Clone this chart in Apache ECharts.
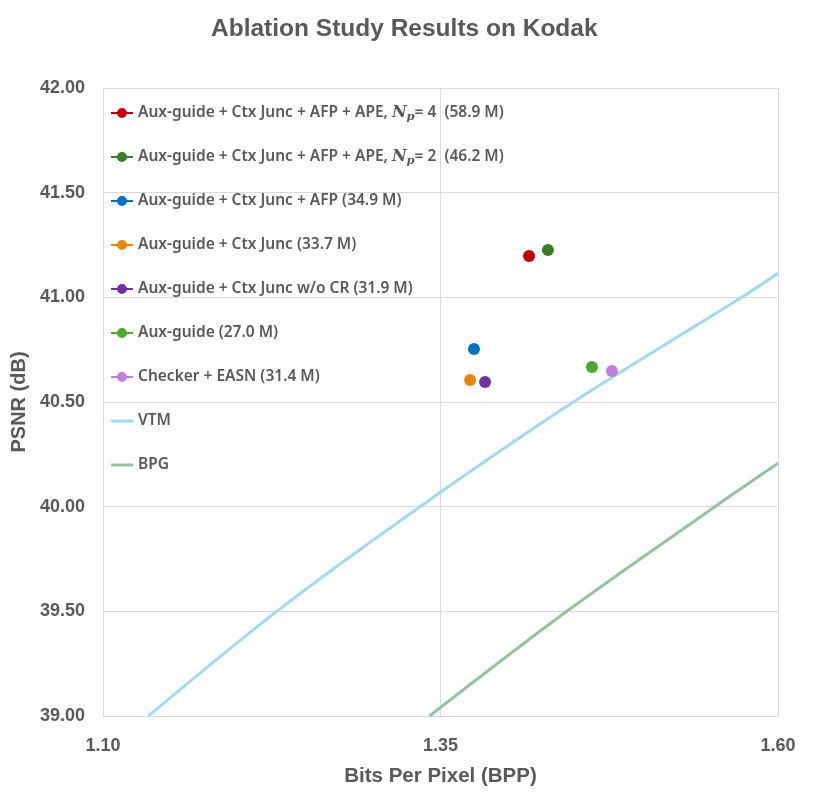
<!DOCTYPE html>
<html>
<head>
<meta charset="utf-8">
<script src="https://cdn.jsdelivr.net/npm/echarts@6/dist/echarts.min.js"></script>
<style>html,body{margin:0;padding:0;background:#fff;}#c{width:822px;height:792px;}</style>
</head>
<body>
<div id="c"></div>
<script>
const pointNames = [
  'Aux-guide + Ctx Junc + AFP + APE, Np= 4  (58.9 M)',
  'Aux-guide + Ctx Junc + AFP + APE, Np= 2  (46.2 M)',
  'Aux-guide + Ctx Junc + AFP (34.9 M)',
  'Aux-guide + Ctx Junc (33.7 M)',
  'Aux-guide + Ctx Junc w/o CR (31.9 M)',
  'Aux-guide (27.0 M)',
  'Checker + EASN (31.4 M)'
];
const pointColors = ['#c00000', '#3a7d22', '#0070c0', '#e8870e', '#7030a0', '#4ea72e', '#c07ee0'];
const pointBpp = [1.4156, 1.4296, 1.3748, 1.3719, 1.3830, 1.4622, 1.4770];
const pointPsnr = [41.197, 41.226, 40.753, 40.605, 40.595, 40.667, 40.648];

const vtmBpp = [1.1336, 1.2287, 1.3348, 1.4484, 1.5731, 1.6000];
const vtmPsnr = [39.00, 39.50, 40.00, 40.50, 41.00, 41.115];
const bpgBpp = [1.3419, 1.4435, 1.5533, 1.6000];
const bpgPsnr = [39.00, 39.50, 40.00, 40.207];

const xTicks = [1.10, 1.35, 1.60];
const yTicks = [39.0, 39.5, 40.0, 40.5, 41.0, 41.5, 42.0];

const gray = '#595959';
const gridColor = '#d9d9d9';
const labelFont = 'Liberation Sans';
const legendFont = 'Noto Sans';
const vtmColor = '#a3d8ef';
const bpgColor = '#97c29d';

const series = pointNames.map((n, i) => ({
  name: n,
  type: 'scatter',
  symbol: 'circle',
  symbolSize: 12,
  itemStyle: { color: pointColors[i], opacity: 1 },
  data: [[pointBpp[i], pointPsnr[i]]],
  z: 5
}));
series.push({
  name: 'VTM', type: 'line', smooth: 0.3, showSymbol: false, symbol: 'none',
  lineStyle: { color: vtmColor, width: 3 }, itemStyle: { color: vtmColor },
  data: vtmBpp.map((x, i) => [x, vtmPsnr[i]])
});
series.push({
  name: 'BPG', type: 'line', smooth: 0.3, showSymbol: false, symbol: 'none',
  lineStyle: { color: bpgColor, width: 3 }, itemStyle: { color: bpgColor },
  data: bpgBpp.map((x, i) => [x, bpgPsnr[i]])
});

const dotIcon = 'path://M0,5H22V7H0Z M11,1A5,5 0 1,1 10.99,1Z M0,0h0.001v0.001h-0.001Z M21.999,11.999h0.001v0.001h-0.001Z';
const lineIcon = 'path://M0,0h0.001v0.001h-0.001Z M0,4.5H22V7.5H0Z M21.999,11.999h0.001v0.001h-0.001Z';

const legendData = pointNames.map((n, i) => ({ name: n, icon: dotIcon, itemStyle: { color: pointColors[i] } }))
  .concat([
    { name: 'VTM', icon: lineIcon, itemStyle: { color: vtmColor } },
    { name: 'BPG', icon: lineIcon, itemStyle: { color: bpgColor } }
  ]);

const chart = echarts.init(document.getElementById('c'), null, { renderer: 'canvas' });
chart.setOption({
  backgroundColor: '#ffffff',
  animation: false,
  title: {
    text: 'Ablation Study Results on Kodak',
    left: 211,
    top: 17,
    padding: 0,
    textStyle: { color: gray, fontFamily: labelFont, fontWeight: 'bold', fontSize: 24.5 }
  },
  grid: { left: 103, right: 44, top: 88, bottom: 76, containLabel: false, outerBoundsMode: 'none' },
  legend: {
    orient: 'vertical',
    left: 111,
    top: 103,
    padding: 0,
    itemWidth: 22,
    itemHeight: 12,
    itemGap: 24,
    data: legendData,
    textStyle: {
      color: gray, fontFamily: legendFont, fontWeight: 600, fontSize: 15.5, lineHeight: 20,
      rich: {
        a: { color: gray, fontFamily: legendFont, fontWeight: 600, fontSize: 15.5, lineHeight: 20 },
        n: { color: gray, fontFamily: 'DejaVu Serif', fontStyle: 'italic', fontSize: 16, lineHeight: 20 },
        p: { color: gray, fontFamily: 'DejaVu Serif', fontStyle: 'italic', fontSize: 11.5, lineHeight: 12, padding: [8, 0, 0, 0] }
      }
    },
    formatter: function (name) {
      if (name.indexOf('Np=') >= 0) {
        const parts = name.split('Np');
        return '{a|' + parts[0] + '}{n|N}{p|p}{a|' + parts[1] + '}';
      }
      return '{a|' + name + '}';
    }
  },
  xAxis: {
    type: 'value',
    min: 1.10, max: 1.60, interval: 0.25,
    name: 'Bits Per Pixel (BPP)',
    nameLocation: 'middle',
    nameGap: 50,
    nameTextStyle: { color: gray, fontFamily: labelFont, fontWeight: 'bold', fontSize: 20.5 },
    axisLine: { show: true, lineStyle: { color: gridColor, width: 1 } },
    axisTick: { show: false },
    axisLabel: { color: gray, fontFamily: labelFont, fontWeight: 'bold', fontSize: 18, margin: 21,
      formatter: v => v.toFixed(2) },
    splitLine: { show: true, lineStyle: { color: gridColor, width: 1 } }
  },
  yAxis: {
    type: 'value',
    min: 39.0, max: 42.0, interval: 0.5,
    name: 'PSNR (dB)',
    nameLocation: 'middle',
    nameGap: 70,
    nameRotate: 90,
    nameTextStyle: { color: gray, fontFamily: labelFont, fontWeight: 'bold', fontSize: 20 },
    axisLine: { show: true, lineStyle: { color: gridColor, width: 1 } },
    axisTick: { show: false },
    axisLabel: { color: gray, fontFamily: labelFont, fontWeight: 'bold', fontSize: 18, margin: 18,
      formatter: v => v.toFixed(2) },
    splitLine: { show: true, lineStyle: { color: gridColor, width: 1 } }
  },
  series: series
});
</script>
</body>
</html>
